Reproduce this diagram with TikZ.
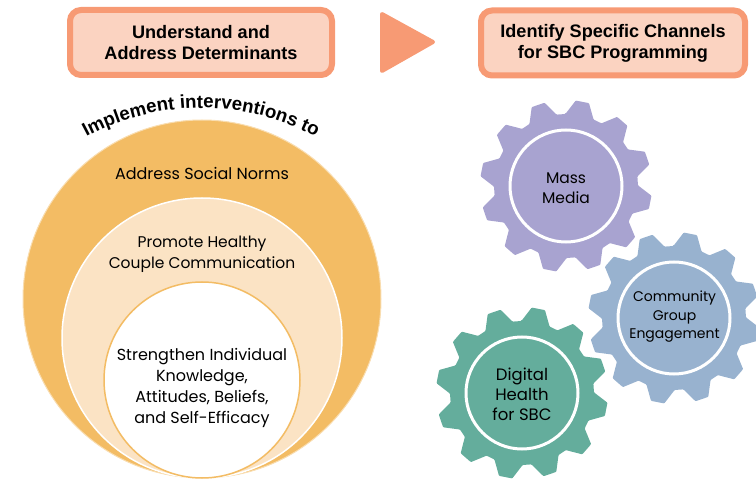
\documentclass[tikz,border=0pt]{standalone}
\usepackage{fontspec}
\setmainfont{Poppins}
\newfontfamily\headfont{Liberation Sans}[BoldFont={Liberation Sans Bold}]
\usetikzlibrary{decorations.text,calc}
\definecolor{salmon}{HTML}{F79A74}
\definecolor{salmonpale}{HTML}{FBD3C1}
\definecolor{gold}{HTML}{F3BC64}
\definecolor{goldpale}{HTML}{FBE3C4}
\definecolor{goldedge}{HTML}{F9DDB0}
\definecolor{gearpurple}{HTML}{A8A3D0}
\definecolor{gearblue}{HTML}{98B2CF}
\definecolor{geargreen}{HTML}{64AD9C}
\tikzset{
  headbox/.style={draw=salmon,line width=6pt,fill=salmonpale,rounded corners=11pt,
    minimum height=65pt,align=center,font=\headfont\bfseries\fontsize{18.1}{21}\selectfont,text=black},
  ringtext/.style={align=center,font=\fontsize{16}{21}\selectfont,text=black},
  gearhub/.style={circle,draw=white,line width=3pt,minimum size=112pt,inner sep=0pt},
  geartext/.style={align=center,text=black},
}
\newcommand{\gearshape}[3]{%
  \fill[#3,rounded corners=0.8pt] ($(#1,#2)+(-79-11.5:72)$)
    \foreach \k in {0,30,...,330}{
      -- ($(#1,#2)+(-79+\k-11.5:72)$) -- ($(#1,#2)+(-79+\k-4.5:86)$)
      -- ($(#1,#2)+(-79+\k+4.5:86)$) -- ($(#1,#2)+(-79+\k+11.5:72)$)
    } -- cycle;}
\begin{document}
\begin{tikzpicture}[x=1pt,y=-1pt]
\useasboundingbox (0,0) rectangle (756,489);
% header boxes
\node[headbox,minimum width=262pt] (understand) at (201,42.5) {Understand and\\Address Determinants};
\node[headbox,minimum width=264pt] (identify) at (613,43) {Identify Specific Channels\\for SBC Programming};
\fill[salmon,draw=salmon,line width=4pt,line join=round] (382,14) -- (433,42) -- (382,71) -- cycle;
% nested circles
\node[circle,fill=gold,draw=goldedge,line width=1pt,minimum size=358pt,inner sep=0pt] (outer) at (202,299) {};
\node[circle,fill=goldpale,draw=white,line width=1.5pt,minimum size=280pt,inner sep=0pt] (middle) at (202,338) {};
\node[circle,fill=white,draw=gold,line width=1.5pt,minimum size=196pt,inner sep=0pt] (inner) at (202,380) {};
\node[ringtext] (norms) at (202,173) {Address Social Norms};
\node[ringtext,font=\fontsize{15.5}{21}\selectfont] (couple) at (202,254) {Promote Healthy\\Couple Communication};
\node[ringtext] (indiv) at (202,387.5) {Strengthen Individual\\Knowledge,\\Attitudes, Beliefs,\\and Self-Efficacy};
% curved title
\path[decorate,decoration={text along path,text align=center,
  text={|\headfont\bfseries\fontsize{18.7}{20}\selectfont|Implement interventions to}}]
  ($(201,351)+(-121:243)$) arc[start angle=-121,end angle=-59,radius=243];
% gears
\gearshape{566}{186}{gearpurple}
\gearshape{674}{318}{gearblue}
\gearshape{522}{393}{geargreen}
\node[gearhub] (mass) at (566,186) {};
\node[gearhub] (community) at (674,318) {};
\node[gearhub] (digital) at (522,393) {};
\node[geartext,font=\fontsize{15.5}{20}\selectfont] (masstext) at (566,188) {Mass\\Media};
\node[geartext,font=\fontsize{14}{18.5}\selectfont] (communitytext) at (674.5,317) {Community\\Group\\Engagement};
\node[geartext,font=\fontsize{16.5}{20}\selectfont] (digitaltext) at (522,394) {Digital\\Health\\for SBC};
\end{tikzpicture}
\end{document}
